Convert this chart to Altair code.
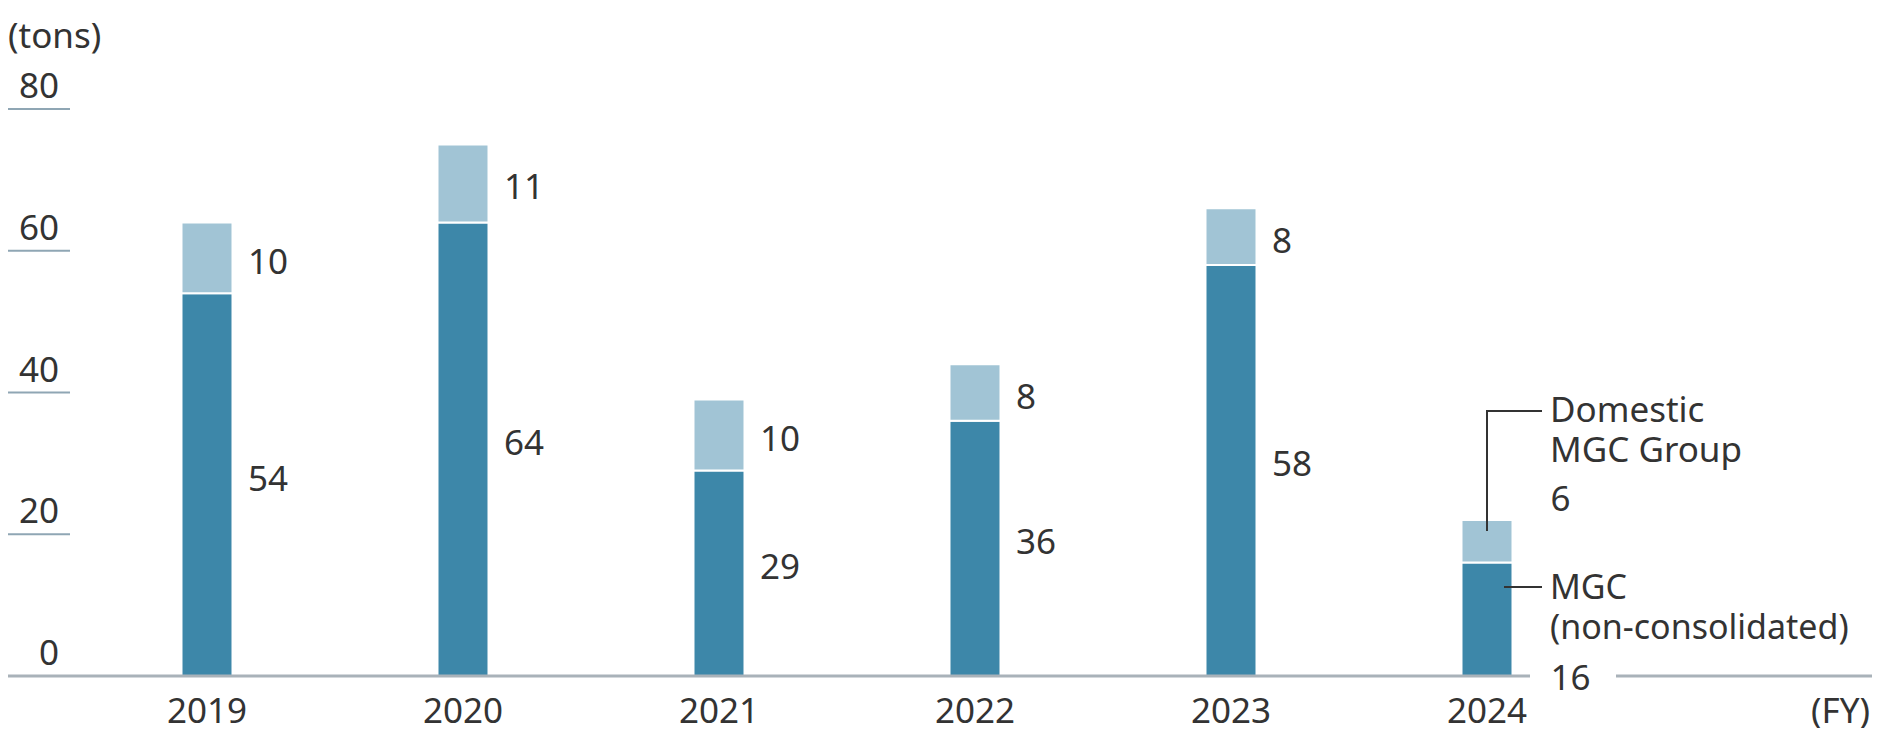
import altair as alt
import pandas as pd

# ---- data ----
years = ["2019", "2020", "2021", "2022", "2023", "2024"]
mgc = [54, 64, 29, 36, 58, 16]          # MGC (non-consolidated)
domestic = [10, 11, 10, 8, 8, 6]        # Domestic MGC Group
y_ticks = [0, 20, 40, 60, 80]

# ---- styles ----
DARK = "#3d87a9"
LIGHT = "#a1c4d5"
TEXT = "#333333"
GRID = "#8fa6b4"
BASE = "#a9b2b9"
FONT = "Noto Sans"
FS = 35

df = pd.DataFrame({"year": years, "mgc": mgc, "domestic": domestic})
df["total"] = df["mgc"] + df["domestic"]
df["mgc_mid"] = df["mgc"] / 2
df["dom_mid"] = df["mgc"] + df["domestic"] / 2
main = df[df["year"] != "2024"]
last = df[df["year"] == "2024"]
tick_df = pd.DataFrame({"v": y_ticks})

xscale = alt.Scale(paddingInner=0, paddingOuter=0.640625, align=0.21646)
xenc = alt.X("year:O", scale=xscale, axis=None)
yscale = alt.Scale(domain=[0, 80], nice=False, zero=True)

txt = dict(font=FONT, fontSize=FS, color=TEXT)

dark = alt.Chart(df).mark_bar(fill=DARK, stroke="white", strokeWidth=2, width=51).encode(
    x=xenc, y=alt.Y("mgc:Q", scale=yscale, axis=None)
)
light = alt.Chart(df).mark_bar(fill=LIGHT, stroke="white", strokeWidth=2, width=51).encode(
    x=xenc, y=alt.Y("total:Q", scale=yscale, axis=None), y2="mgc:Q"
)

lab_dark = alt.Chart(main).mark_text(align="left", baseline="middle", dx=41, dy=-5, **txt).encode(
    x=xenc, y=alt.Y("mgc_mid:Q", scale=yscale), text="mgc:Q"
)
lab_light = alt.Chart(main).mark_text(align="left", baseline="middle", dx=41, dy=5, **txt).encode(
    x=xenc, y=alt.Y("dom_mid:Q", scale=yscale), text="domestic:Q"
)
lab24_dom = alt.Chart(last).mark_text(align="left", baseline="middle", dx=63.5, **txt).encode(
    x=xenc, y=alt.value(391), text="domestic:Q"
)
lab24_mgc = alt.Chart(last).mark_text(align="left", baseline="middle", dx=63.5, **txt).encode(
    x=xenc, y=alt.value(570), text="mgc:Q"
)

ticks = alt.Chart(tick_df).transform_filter("datum.v > 0").mark_rule(color=GRID, strokeWidth=2).encode(
    y=alt.Y("v:Q", scale=yscale), x=alt.value(0), x2=alt.value(62)
)
tick_labels = alt.Chart(tick_df).mark_text(align="right", baseline="middle", dy=-22, **txt).encode(
    y=alt.Y("v:Q", scale=yscale), x=alt.value(51), text="v:Q"
)

base_left = alt.Chart(last).mark_rule(color=BASE, strokeWidth=3).encode(
    x=alt.value(0), x2=alt.value(1522), y=alt.value(567)
)
base_right = alt.Chart(last).mark_rule(color=BASE, strokeWidth=3).encode(
    x=alt.value(1608), x2=alt.value(1864), y=alt.value(567)
)

year_labels = alt.Chart(df).mark_text(align="center", baseline="middle", **txt).encode(
    x=xenc, y=alt.value(602.5), text="year:N"
)
fy = alt.Chart(last).mark_text(align="right", baseline="middle", text="(FY)", **txt).encode(
    x=alt.value(1862), y=alt.value(602.5)
)
tons = alt.Chart(last).mark_text(align="left", baseline="middle", text="(tons)", **txt).encode(
    x=alt.value(0), y=alt.value(-72)
)

ann = dict(align="left", baseline="alphabetic", lineHeight=40, font=FONT, color=TEXT)
t_dom = alt.Chart(last).mark_text(text=["Domestic", "MGC Group"], fontSize=FS, **ann).encode(
    x=alt.value(1542), y=alt.value(312.5)
)
t_mgc = alt.Chart(last).mark_text(text=["MGC", "(non-consolidated)"], fontSize=34, **ann).encode(
    x=alt.value(1542), y=alt.value(489.5)
)

conn = dict(color="#333333", strokeWidth=2, strokeCap="square")
c_dom_h = alt.Chart(last).mark_rule(**conn).encode(x=alt.value(1479), x2=alt.value(1533), y=alt.value(302))
c_dom_v = alt.Chart(last).mark_rule(**conn).encode(x=alt.value(1479), y=alt.value(302), y2=alt.value(421))
c_mgc_h = alt.Chart(last).mark_rule(**conn).encode(x=alt.value(1497), x2=alt.value(1533), y=alt.value(478))

chart = alt.layer(
    dark, light, ticks, tick_labels, base_left, base_right,
    lab_dark, lab_light, lab24_dom, lab24_mgc, year_labels, fy, tons,
    t_dom, t_mgc, c_dom_h, c_dom_v, c_mgc_h,
).properties(
    width=1864, height=567,
    padding={"left": 0, "top": 101, "right": 0, "bottom": 52},
    autosize="none",
).configure_view(stroke=None)

chart.save("out.html", embed_options={"renderer": "svg", "actions": False})
